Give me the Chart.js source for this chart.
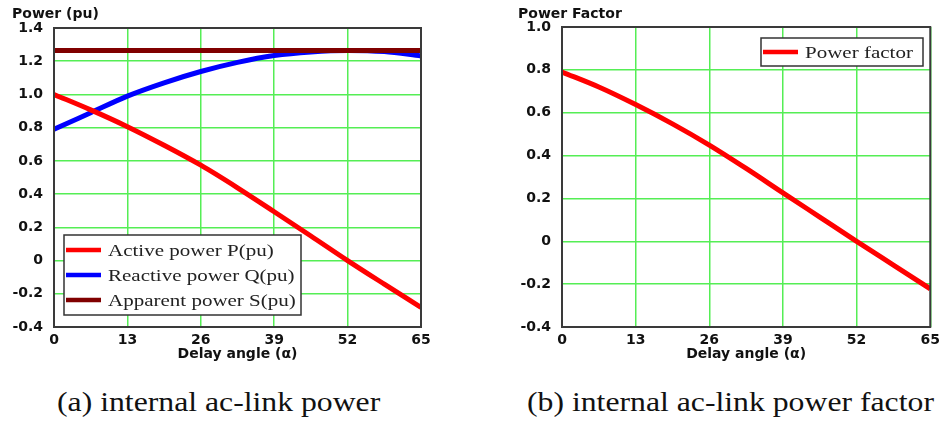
<!DOCTYPE html>
<html>
<head>
<meta charset="utf-8">
<script src="https://cdn.jsdelivr.net/npm/chart.js@4/dist/chart.umd.min.js"></script>
<style>
body { margin: 0; background: #fff; width: 945px; height: 424px; position: relative; overflow: hidden; }
.box { position: absolute; top: 0; height: 370px; }
#boxA { left: 0; width: 440px; }
#boxB { left: 500px; width: 445px; }
.ytitle { position: absolute; top: 5px; font: bold 14px "DejaVu Sans", sans-serif; color: #111; white-space: nowrap; }
.caption { position: absolute; top: 387px; font: 27px "Liberation Serif", "Times New Roman", serif; color: #111;
           white-space: nowrap; transform: scaleX(1.175); transform-origin: left top; }
</style>
</head>
<body>
<div class="box" id="boxA"><canvas id="chartA"></canvas></div>
<div class="box" id="boxB"><canvas id="chartB"></canvas></div>
<div class="ytitle" style="left:12px">Power (pu)</div>
<div class="ytitle" style="left:518px">Power Factor</div>
<div class="caption" style="left:57px">(a) internal ac-link power</div>
<div class="caption" style="left:527px">(b) internal ac-link power factor</div>
<script>
// delay angle samples (degrees)
const alpha = [0, 6.5, 13, 19.5, 26, 32.5, 39, 45.5, 52, 58.5, 65];
const activeP = [1.0, 0.907, 0.806, 0.694, 0.574, 0.438, 0.294, 0.148, 0.0, -0.142, -0.282];
const reactiveQ = [0.79, 0.89, 0.99, 1.07, 1.138, 1.193, 1.234, 1.256, 1.265, 1.258, 1.232];
const apparentS = [1.265, 1.265, 1.265, 1.265, 1.265, 1.265, 1.265, 1.265, 1.265, 1.265, 1.265];
const powerFactor = [0.79, 0.72, 0.638, 0.548, 0.449, 0.34, 0.226, 0.113, 0.0, -0.111, -0.222];

const xTicks = [0, 13, 26, 39, 52, 65];

function pts(ys) {
    return alpha.map((a, i) => ({ x: a, y: ys[i] }));
}

// dark frame around the plot area
const frame = {
    id: 'frame',
    afterDraw(chart) {
        const a = chart.chartArea;
        const ctx = chart.ctx;
        ctx.save();
        ctx.strokeStyle = '#3a3a3a';
        ctx.lineWidth = 2;
        ctx.strokeRect(a.left, a.top, a.right - a.left, a.bottom - a.top);
        ctx.restore();
    }
};

// boxed legend drawn inside the plot (text a bit stretched like the source)
const boxLegend = {
    id: 'boxLegend',
    afterDatasetsDraw(chart, args, opts) {
        const ctx = chart.ctx;
        ctx.save();
        ctx.fillStyle = '#fff';
        ctx.fillRect(opts.x, opts.y, opts.w, opts.h);
        ctx.strokeStyle = '#333';
        ctx.lineWidth = 1.5;
        ctx.strokeRect(opts.x, opts.y, opts.w, opts.h);
        ctx.font = '17.5px "Liberation Serif", serif';
        ctx.textBaseline = 'middle';
        chart.data.datasets.forEach((ds, i) => {
            const cy = opts.y + opts.first + i * opts.gap;
            ctx.strokeStyle = ds.borderColor;
            ctx.lineWidth = 4.5;
            ctx.beginPath();
            ctx.moveTo(opts.x + 2, cy);
            ctx.lineTo(opts.x + 37, cy);
            ctx.stroke();
            ctx.save();
            ctx.translate(opts.x + 44, cy + 1);
            ctx.scale(1.2, 1);
            ctx.fillStyle = '#222';
            ctx.fillText(ds.label, 0, 0);
            ctx.restore();
        });
        ctx.restore();
    }
};

const tickFont = { family: '"DejaVu Sans", sans-serif', size: 14, weight: 'bold' };

function yFmt(v) {
    return Math.abs(v) < 1e-9 ? '0' : v.toFixed(1);
}

function makeScales(ymin, ymax, yWidth) {
    return {
        x: {
            type: 'linear',
            min: 0,
            max: 65,
            afterBuildTicks: axis => { axis.ticks = xTicks.map(v => ({ value: v })); },
            afterFit: axis => { axis.height = 43; },
            ticks: { font: tickFont, color: '#111', padding: 5, maxRotation: 0 },
            grid: { color: '#55ee55', lineWidth: 1.5, drawTicks: false },
            border: { display: false },
            title: {
                display: true,
                text: 'Delay angle (α)',
                font: tickFont,
                color: '#111',
                padding: { top: 0, bottom: 7 }
            }
        },
        y: {
            min: ymin,
            max: ymax,
            afterFit: axis => { axis.width = yWidth; },
            ticks: { stepSize: 0.2, font: tickFont, color: '#111', padding: 11, callback: yFmt },
            grid: { color: '#55ee55', lineWidth: 1.5, drawTicks: false },
            border: { display: false }
        }
    };
}

const lineStyle = { borderWidth: 5, pointRadius: 0, cubicInterpolationMode: 'monotone', fill: false };

new Chart(document.getElementById('chartA'), {
    type: 'line',
    data: {
        datasets: [
            { label: 'Active power P(pu)', data: pts(activeP), borderColor: '#ff0000', order: 1, ...lineStyle },
            { label: 'Reactive power Q(pu)', data: pts(reactiveQ), borderColor: '#0000ff', order: 2, ...lineStyle },
            { label: 'Apparent power S(pu)', data: pts(apparentS), borderColor: '#800000', order: 0, ...lineStyle }
        ]
    },
    options: {
        responsive: true,
        maintainAspectRatio: false,
        animation: false,
        layout: { padding: { top: 28, right: 19, left: 0, bottom: 0 } },
        scales: makeScales(-0.4, 1.4, 54),
        plugins: {
            legend: { display: false },
            tooltip: { enabled: false },
            boxLegend: { x: 64, y: 235, w: 237, h: 80, first: 15, gap: 25 }
        }
    },
    plugins: [boxLegend, frame]
});

new Chart(document.getElementById('chartB'), {
    type: 'line',
    data: {
        datasets: [
            { label: 'Power factor', data: pts(powerFactor), borderColor: '#ff0000', ...lineStyle }
        ]
    },
    options: {
        responsive: true,
        maintainAspectRatio: false,
        animation: false,
        layout: { padding: { top: 27, right: 12, left: 0, bottom: 0 } },
        scales: makeScales(-0.4, 1.0, 62),
        plugins: {
            legend: { display: false },
            tooltip: { enabled: false },
            boxLegend: { x: 261, y: 38, w: 162, h: 28, first: 14, gap: 25 }
        }
    },
    plugins: [boxLegend, frame]
});
</script>
</body>
</html>
